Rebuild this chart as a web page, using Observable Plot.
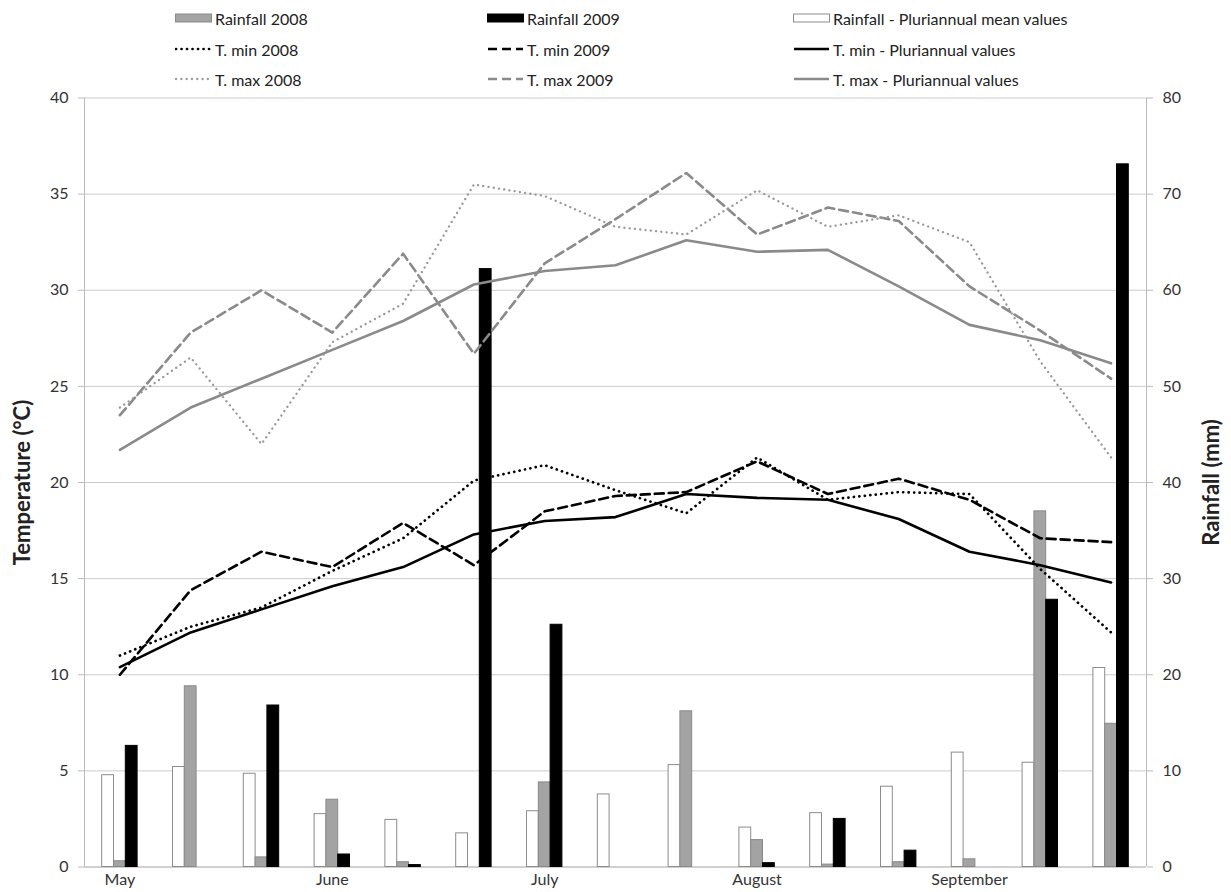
<!DOCTYPE html>
<html><head><meta charset="utf-8">
<script src="https://cdn.jsdelivr.net/npm/d3@7"></script>
<script src="https://cdn.jsdelivr.net/npm/@observablehq/plot@0.6"></script>
<style>
body{margin:0;background:#fff;font-family:Lato,"Open Sans",sans-serif;}
#legend{position:relative;width:1231px;height:88px;}
.item{position:absolute;display:flex;align-items:center;font-size:16px;color:#222;white-space:nowrap;height:20px;}
.item svg{margin-right:3px;}
</style></head><body>
<div id="legend"></div><div id="chart"></div>
<script>
// ten-day periods, May to September
const periods = ["May I","May II","May III","June I","June II","June III","July I","July II","July III",
  "August I","August II","August III","September I","September II","September III"];
const monthTicks = [0, 3, 6, 9, 12];
const monthLabels = ["May", "June", "July", "August", "September"];
const tempTicks = [0, 5, 10, 15, 20, 25, 30, 35, 40];

// temperatures (°C)
const tmin2008  = [11.0, 12.5, 13.5, 15.4, 17.1, 20.1, 20.9, 19.6, 18.4, 21.3, 19.1, 19.5, 19.4, 15.5, 12.2];
const tmin2009  = [10.0, 14.4, 16.4, 15.6, 17.9, 15.7, 18.5, 19.3, 19.5, 21.1, 19.4, 20.2, 19.1, 17.1, 16.9];
const tminPluri = [10.4, 12.2, 13.4, 14.6, 15.6, 17.3, 18.0, 18.2, 19.4, 19.2, 19.1, 18.1, 16.4, 15.7, 14.8];
const tmax2008  = [23.9, 26.5, 22.0, 27.3, 29.3, 35.5, 34.9, 33.3, 32.9, 35.2, 33.3, 33.9, 32.5, 26.3, 21.3];
const tmax2009  = [23.5, 27.8, 30.0, 27.8, 31.9, 26.7, 31.4, 33.7, 36.1, 32.9, 34.3, 33.6, 30.2, 27.9, 25.4];
const tmaxPluri = [21.7, 23.9, 25.4, 26.9, 28.4, 30.3, 31.0, 31.3, 32.6, 32.0, 32.1, 30.2, 28.2, 27.4, 26.2];

// rainfall (mm)
const rain2008  = [0.6, 18.8, 1.0, 7.0, 0.5, 0, 8.8, 0, 16.2, 2.8, 0.25, 0.5, 0.8, 37.0, 14.9];
const rain2009  = [12.6, 0, 16.8, 1.3, 0.2, 62.2, 25.2, 0, 0, 0.4, 5.0, 1.7, 0, 27.8, 73.1];
const rainMean  = [9.55, 10.4, 9.7, 5.5, 4.9, 3.5, 5.8, 7.55, 10.6, 4.1, 5.6, 8.35, 11.9, 10.85, 20.7];

const rows = periods.map((p, i) => ({
  i, p,
  tmin2008: tmin2008[i], tmin2009: tmin2009[i], tminPluri: tminPluri[i],
  tmax2008: tmax2008[i], tmax2009: tmax2009[i], tmaxPluri: tmaxPluri[i],
  r2008: rain2008[i], r2009: rain2009[i], rMean: rainMean[i]
}));

const GRAY = "#8a8a8a";
const styles = {
  rMean: {fill: "#fff", stroke: "#8c8c8c"},
  r2008: {fill: "#a3a3a3", stroke: "#8a8a8a"},
  r2009: {fill: "#000", stroke: "#000"},
  tmin2008: {stroke: "#000", strokeWidth: 2.7, strokeDasharray: "0.1 5.4", strokeLinecap: "round"},
  tmin2009: {stroke: "#000", strokeWidth: 2.6, strokeDasharray: "9 5"},
  tminPluri: {stroke: "#000", strokeWidth: 2.6},
  tmax2008: {stroke: "#999", strokeWidth: 2.3, strokeDasharray: "0.1 5.2", strokeLinecap: "round"},
  tmax2009: {stroke: GRAY, strokeWidth: 2.6, strokeDasharray: "9 5"},
  tmaxPluri: {stroke: GRAY, strokeWidth: 2.6}
};

// legend
const legendItems = [
  {key: "r2008", label: "Rainfall 2008", type: "rect", col: 0, row: 0},
  {key: "r2009", label: "Rainfall 2009", type: "rect", col: 1, row: 0},
  {key: "rMean", label: "Rainfall - Pluriannual mean values", type: "rect", col: 2, row: 0},
  {key: "tmin2008", label: "T. min 2008", type: "line", col: 0, row: 1},
  {key: "tmin2009", label: "T. min 2009", type: "line", col: 1, row: 1},
  {key: "tminPluri", label: "T. min - Pluriannual values", type: "line", col: 2, row: 1},
  {key: "tmax2008", label: "T. max 2008", type: "line", col: 0, row: 2},
  {key: "tmax2009", label: "T. max 2009", type: "line", col: 1, row: 2},
  {key: "tmaxPluri", label: "T. max - Pluriannual values", type: "line", col: 2, row: 2}
];
const colX = [175, 487, 793], rowY = [18, 49, 79];
const legend = document.getElementById("legend");
for (const it of legendItems) {
  const s = styles[it.key];
  const div = document.createElement("div");
  div.className = "item";
  div.style.left = colX[it.col] + "px";
  div.style.top = (rowY[it.row] - 10) + "px";
  let sw;
  if (it.type === "rect") {
    sw = `<svg width="37" height="12"><rect x="0.5" y="2" width="36" height="8" fill="${s.fill}" stroke="${s.stroke}"/></svg>`;
  } else {
    sw = `<svg width="37" height="12"><line x1="1" y1="6" x2="36" y2="6" stroke="${s.stroke}" stroke-width="${s.strokeWidth}" ${s.strokeDasharray ? `stroke-dasharray="${s.strokeDasharray}"` : ""} stroke-linecap="${s.strokeLinecap || "butt"}"/></svg>`;
  }
  div.innerHTML = sw + `<span>${it.label}</span>`;
  legend.appendChild(div);
}

const bw = 1 / 6; // bar width in band units
const chart = Plot.plot({
  width: 1231, height: 804,
  marginTop: 9.5, marginBottom: 25.5, marginLeft: 84, marginRight: 85,
  x: {type: "linear", domain: [-0.5, 14.5]},
  y: {domain: [0, 40]},
  style: {fontFamily: "Lato, 'Open Sans', sans-serif", fontSize: "16px", color: "#333", background: "#fff"},
  marks: [
    Plot.gridY(tempTicks, {stroke: "#cccccc", strokeOpacity: 1}),
    Plot.ruleX([-0.5, 14.5], {stroke: "#bbbbbb"}),
    Plot.ruleY([0], {stroke: "#bbbbbb"}),
    Plot.axisY({ticks: tempTicks, tickSize: 6, tickPadding: 10, stroke: "#bbbbbb", label: null}),
    Plot.axisY({anchor: "right", ticks: tempTicks, tickFormat: d => d * 2, tickSize: 6, tickPadding: 10, stroke: "#bbbbbb", label: null}),
    Plot.axisX({ticks: monthTicks, tickFormat: d => monthLabels[monthTicks.indexOf(d)], tickSize: 0, tickPadding: 7, label: null}),
    // rainfall bars (right axis: mm, 2 mm per °C)
    Plot.rectY(rows.filter(d => d.rMean > 0), {x1: d => d.i - 1.5 * bw, x2: d => d.i - 0.5 * bw, y1: 0, y2: d => d.rMean / 2, ...styles.rMean}),
    Plot.rectY(rows.filter(d => d.r2008 > 0), {x1: d => d.i - 0.5 * bw, x2: d => d.i + 0.5 * bw, y1: 0, y2: d => d.r2008 / 2, ...styles.r2008}),
    Plot.rectY(rows.filter(d => d.r2009 > 0), {x1: d => d.i + 0.5 * bw, x2: d => d.i + 1.5 * bw, y1: 0, y2: d => d.r2009 / 2, ...styles.r2009}),
    // temperature lines
    Plot.line(rows, {x: "i", y: "tmaxPluri", ...styles.tmaxPluri}),
    Plot.line(rows, {x: "i", y: "tmax2009", ...styles.tmax2009}),
    Plot.line(rows, {x: "i", y: "tmax2008", ...styles.tmax2008}),
    Plot.line(rows, {x: "i", y: "tminPluri", ...styles.tminPluri}),
    Plot.line(rows, {x: "i", y: "tmin2009", ...styles.tmin2009}),
    Plot.line(rows, {x: "i", y: "tmin2008", ...styles.tmin2008}),
    // axis titles
    Plot.text(["Temperature (°C)"], {frameAnchor: "left", textAnchor: "middle", dx: -62, rotate: -90, fontWeight: "bold", fontSize: 22, fill: "#222"}),
    Plot.text(["Rainfall (mm)"], {frameAnchor: "right", textAnchor: "middle", dx: 65, rotate: -90, fontWeight: "bold", fontSize: 22, fill: "#222"})
  ]
});
document.getElementById("chart").appendChild(chart);
</script>
</body></html>
